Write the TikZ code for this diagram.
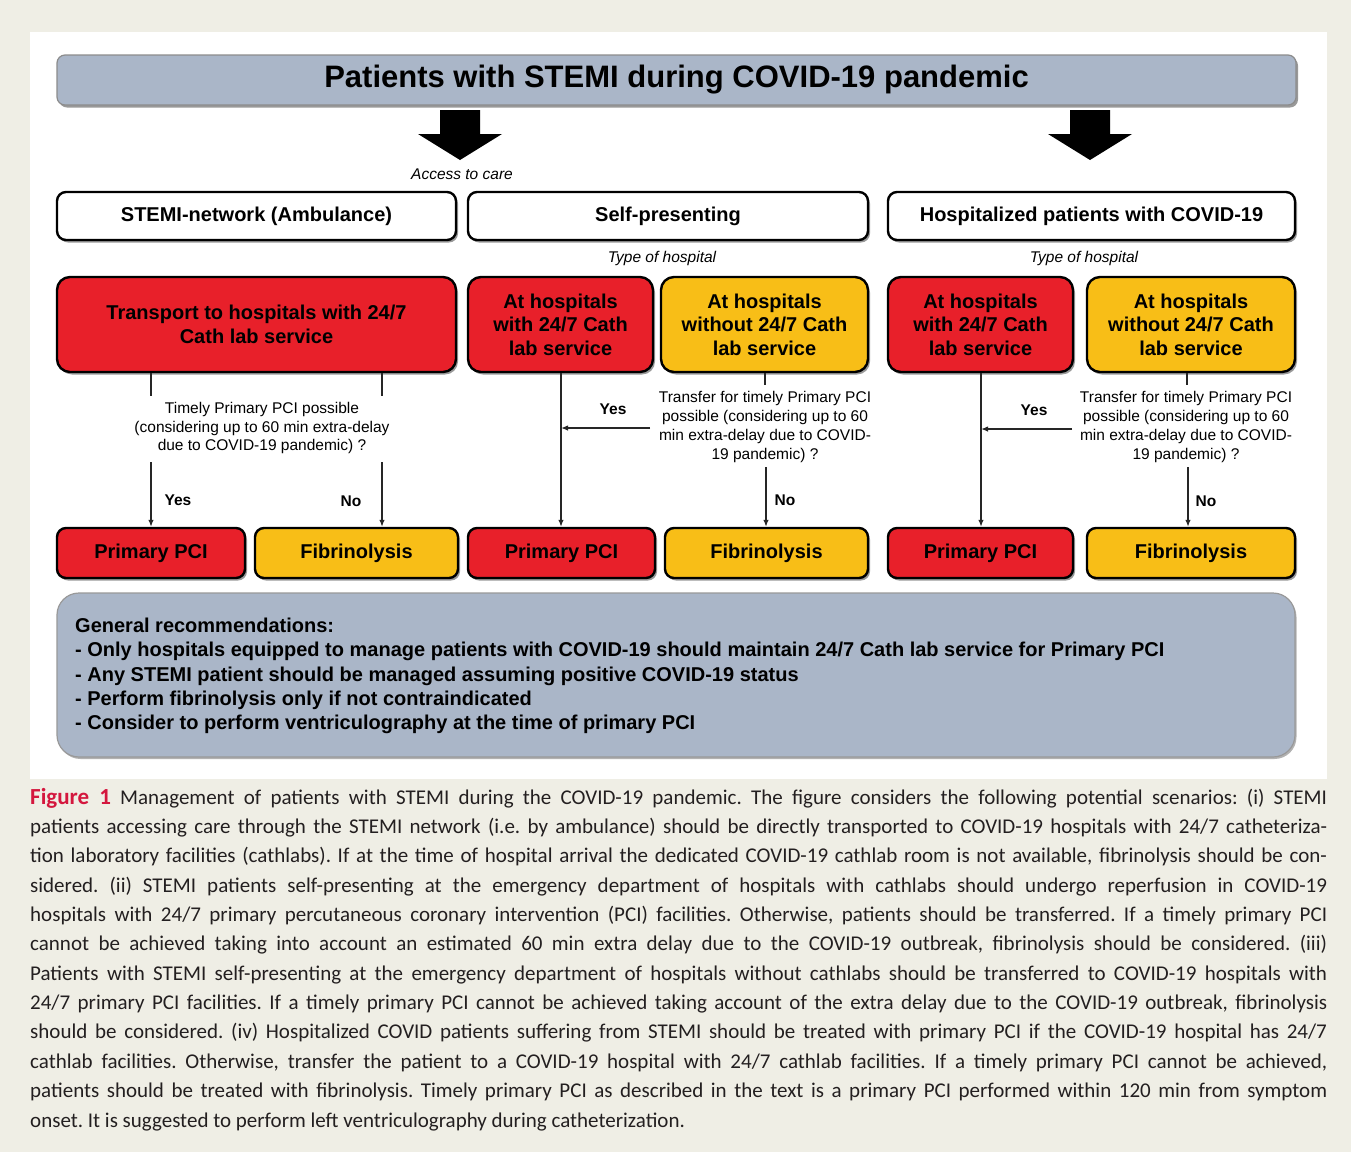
\documentclass[tikz,border=0pt]{standalone}
\usepackage{fontspec}
\setmainfont{Liberation Sans}
\newfontfamily\capfont{Carlito}
\usetikzlibrary{shadows,arrows.meta}
\definecolor{bgbeige}{HTML}{EFEEE5}
\definecolor{boxred}{HTML}{E8202A}
\definecolor{boxyellow}{HTML}{F8BE17}
\definecolor{bluegrey}{HTML}{AAB6C8}
\definecolor{figred}{HTML}{D4173E}
\definecolor{captext}{HTML}{231F20}
\frenchspacing
\newcommand\fsBox{\fontsize{20}{23.5}\selectfont\bfseries}
\newcommand\fsTitle{\fontsize{31}{36}\selectfont\bfseries}
\newcommand\fsQ{\fontsize{15.5}{18.7}\selectfont}
\newcommand\fsYN{\fontsize{15.5}{18}\selectfont\bfseries}
\newcommand\fsIt{\fontsize{15.5}{18}\selectfont\itshape}
\newcommand\fsRec{\fontsize{20}{24.3}\selectfont\bfseries}
\newcommand\fsCap{\capfont\fontsize{21}{29.4}\selectfont}
\newcommand\figlabel{\textcolor{figred}{\fontsize{23}{29.4}\selectfont\bfseries Figure 1}}
\tikzset{
  shd/.style={drop shadow={shadow xshift=2pt,shadow yshift=-2.5pt,opacity=0.4,fill=black}},
  titlebar/.style={draw=black!45,line width=1.2pt,fill=bluegrey,rounded corners=8pt,shd,
    minimum width=1239pt,minimum height=50pt,inner sep=0pt,font=\fsTitle},
  catbox/.style={draw=black,fill=white,line width=2.4pt,rounded corners=9pt,shd,
    minimum height=48pt,inner sep=0pt,font=\fsBox},
  redbox/.style={draw=black,fill=boxred,line width=2.4pt,rounded corners=13pt,shd,
    minimum height=95pt,inner sep=0pt,font=\fsBox,align=center},
  yelbox/.style={redbox,fill=boxyellow},
  redend/.style={draw=black,fill=boxred,line width=2.4pt,rounded corners=9pt,shd,
    minimum height=50pt,inner sep=0pt,font=\fsBox},
  yelend/.style={redend,fill=boxyellow},
  question/.style={font=\fsQ,align=center,inner sep=0pt},
  yn/.style={font=\fsYN,inner sep=0pt},
  itlabel/.style={font=\fsIt,inner sep=0pt},
  conn/.style={line width=1.3pt,draw=black!85},
  arr/.style={conn,-{Latex[length=7pt,width=5.5pt]}},
  bigarrow/.style={fill=black},
  recbox/.style={draw=black!40,line width=1.2pt,fill=bluegrey,rounded corners=22pt,
    drop shadow={shadow xshift=1.5pt,shadow yshift=-2pt,opacity=0.3,fill=black},
    minimum width=1238pt,minimum height=164pt,inner sep=0pt},
  capline/.style={anchor=base west,inner sep=0pt,font=\fsCap,text=captext}
}
\begin{document}
\begin{tikzpicture}[x=1pt,y=-1pt]
% background and panel
\fill[bgbeige] (0,0) rectangle (1351,1152);
\useasboundingbox (0,0) rectangle (1351,1152);
\fill[white] (30,32) rectangle (1327,779);

% title
\node[titlebar] (title) at (676.5,80) {Patients with STEMI during COVID-19 pandemic};

% big arrows
\fill[bigarrow] (440,110) -- (480,110) -- (480,134) -- (502,134) -- (460,160) -- (418,134) -- (440,134) -- cycle;
\fill[bigarrow] (1070,110) -- (1110,110) -- (1110,134) -- (1132,134) -- (1090,160) -- (1048,134) -- (1070,134) -- cycle;
\node[itlabel] (access) at (462,174) {Access to care};

% categories
\node[catbox,minimum width=399pt] (c1) at (256.5,216) {STEMI-network (Ambulance)};
\node[catbox,minimum width=400pt] (c2) at (668,216) {Self-presenting};
\node[catbox,minimum width=407pt] (c3) at (1091.5,216) {Hospitalized patients with COVID-19};

\node[itlabel] (toh2) at (662,258) {Type of hospital};
\node[itlabel] (toh3) at (1084,258) {Type of hospital};

% row 2
\node[redbox,minimum width=399pt] (r1) at (256.5,324.5) {Transport to hospitals with 24/7\\Cath lab service};
\node[redbox,minimum width=185pt] (r2a) at (560.5,324.5) {At hospitals\\with 24/7 Cath\\lab service};
\node[yelbox,minimum width=207pt] (r2b) at (764.5,324.5) {At hospitals\\without 24/7 Cath\\lab service};
\node[redbox,minimum width=185pt] (r3a) at (980.5,324.5) {At hospitals\\with 24/7 Cath\\lab service};
\node[yelbox,minimum width=208pt] (r3b) at (1191,324.5) {At hospitals\\without 24/7 Cath\\lab service};

% row 3
\node[redend,minimum width=188pt] (p1) at (151,553) {Primary PCI};
\node[yelend,minimum width=203pt] (f1) at (356.5,553) {Fibrinolysis};
\node[redend,minimum width=187pt] (p2) at (561.5,553) {Primary PCI};
\node[yelend,minimum width=203pt] (f2) at (766.5,553) {Fibrinolysis};
\node[redend,minimum width=185pt] (p3) at (980.5,553) {Primary PCI};
\node[yelend,minimum width=208pt] (f3) at (1191,553) {Fibrinolysis};

% questions
\node[question] (q1) at (262,428) {Timely Primary PCI possible\\(considering up to 60 min extra-delay\\due to COVID-19 pandemic) ?};
\node[question] (q2) at (765,427) {Transfer for timely Primary PCI\\possible (considering up to 60\\min extra-delay due to COVID-\\19 pandemic) ?};
\node[question] (q3) at (1186,427) {Transfer for timely Primary PCI\\possible (considering up to 60\\min extra-delay due to COVID-\\19 pandemic) ?};

% group 1 connectors
\coordinate (g1a) at (151,396);
\coordinate (g1b) at (151,462);
\coordinate (g1c) at (382,396);
\coordinate (g1d) at (382,462);
\draw[conn] (r1.south -| g1a) -- (g1a);
\draw[arr] (g1b) -- (g1b |- p1.north);
\draw[conn] (r1.south -| g1c) -- (g1c);
\draw[arr] (g1d) -- (g1d |- f1.north);
\node[yn] (yes1) at (178,500) {Yes};
\node[yn] (no1) at (351,501) {No};

% group 2 connectors
\coordinate (g2v) at (561,372);
\draw[arr] (r2a.south -| g2v) -- (g2v |- p2.north);
\coordinate (g2h) at (650,428);
\draw[arr] (g2h) -- (g2h -| g2v);
\coordinate (g2s) at (765,385);
\draw[conn] (r2b.south -| g2s) -- (g2s);
\coordinate (g2n) at (766,467);
\draw[arr] (g2n) -- (g2n |- f2.north);
\node[yn] (yes2) at (613,409) {Yes};
\node[yn] (no2) at (785,500) {No};

% group 3 connectors
\coordinate (g3v) at (981,372);
\draw[arr] (r3a.south -| g3v) -- (g3v |- p3.north);
\coordinate (g3h) at (1072,429);
\draw[arr] (g3h) -- (g3h -| g3v);
\coordinate (g3s) at (1187,385);
\draw[conn] (r3b.south -| g3s) -- (g3s);
\coordinate (g3n) at (1188,467);
\draw[arr] (g3n) -- (g3n |- f3.north);
\node[yn] (yes3) at (1034,410) {Yes};
\node[yn] (no3) at (1206,501) {No};

% recommendations
\node[recbox] (rec) at (676,675) {};
\node[anchor=west,align=left,font=\fsRec,inner sep=0pt] (rectext) at (75,676)
 {General recommendations:\\
  - Only hospitals equipped to manage patients with COVID-19 should maintain 24/7 Cath lab service for Primary PCI\\
  - Any STEMI patient should be managed assuming positive COVID-19 status\\
  - Perform fibrinolysis only if not contraindicated\\
  - Consider to perform ventriculography at the time of primary PCI};

% caption
\node[capline] (cap1) at (30,804) {\makebox[1297pt][s]{\figlabel\ Management of patients with STEMI during the COVID-19 pandemic. The figure considers the following potential scenarios: (i) STEMI}};
\node[capline] (cap2) at (30,833.4) {\makebox[1297pt][s]{patients accessing care through the STEMI network (i.e. by ambulance) should be directly transported to COVID-19 hospitals with 24/7 catheteriza-}};
\node[capline] (cap3) at (30,862.7) {\makebox[1297pt][s]{tion laboratory facilities (cathlabs). If at the time of hospital arrival the dedicated COVID-19 cathlab room is not available, fibrinolysis should be con-}};
\node[capline] (cap4) at (30,892.1) {\makebox[1297pt][s]{sidered. (ii) STEMI patients self-presenting at the emergency department of hospitals with cathlabs should undergo reperfusion in COVID-19}};
\node[capline] (cap5) at (30,921.4) {\makebox[1297pt][s]{hospitals with 24/7 primary percutaneous coronary intervention (PCI) facilities. Otherwise, patients should be transferred. If a timely primary PCI}};
\node[capline] (cap6) at (30,950.8) {\makebox[1297pt][s]{cannot be achieved taking into account an estimated 60 min extra delay due to the COVID-19 outbreak, fibrinolysis should be considered. (iii)}};
\node[capline] (cap7) at (30,980.2) {\makebox[1297pt][s]{Patients with STEMI self-presenting at the emergency department of hospitals without cathlabs should be transferred to COVID-19 hospitals with}};
\node[capline] (cap8) at (30,1009.5) {\makebox[1297pt][s]{24/7 primary PCI facilities. If a timely primary PCI cannot be achieved taking account of the extra delay due to the COVID-19 outbreak, fibrinolysis}};
\node[capline] (cap9) at (30,1038.9) {\makebox[1297pt][s]{should be considered. (iv) Hospitalized COVID patients suffering from STEMI should be treated with primary PCI if the COVID-19 hospital has 24/7}};
\node[capline] (cap10) at (30,1068.2) {\makebox[1297pt][s]{cathlab facilities. Otherwise, transfer the patient to a COVID-19 hospital with 24/7 cathlab facilities. If a timely primary PCI cannot be achieved,}};
\node[capline] (cap11) at (30,1097.6) {\makebox[1297pt][s]{patients should be treated with fibrinolysis. Timely primary PCI as described in the text is a primary PCI performed within 120 min from symptom}};
\node[capline] (cap12) at (30,1127) {onset. It is suggested to perform left ventriculography during catheterization.};
\end{tikzpicture}
\end{document}
